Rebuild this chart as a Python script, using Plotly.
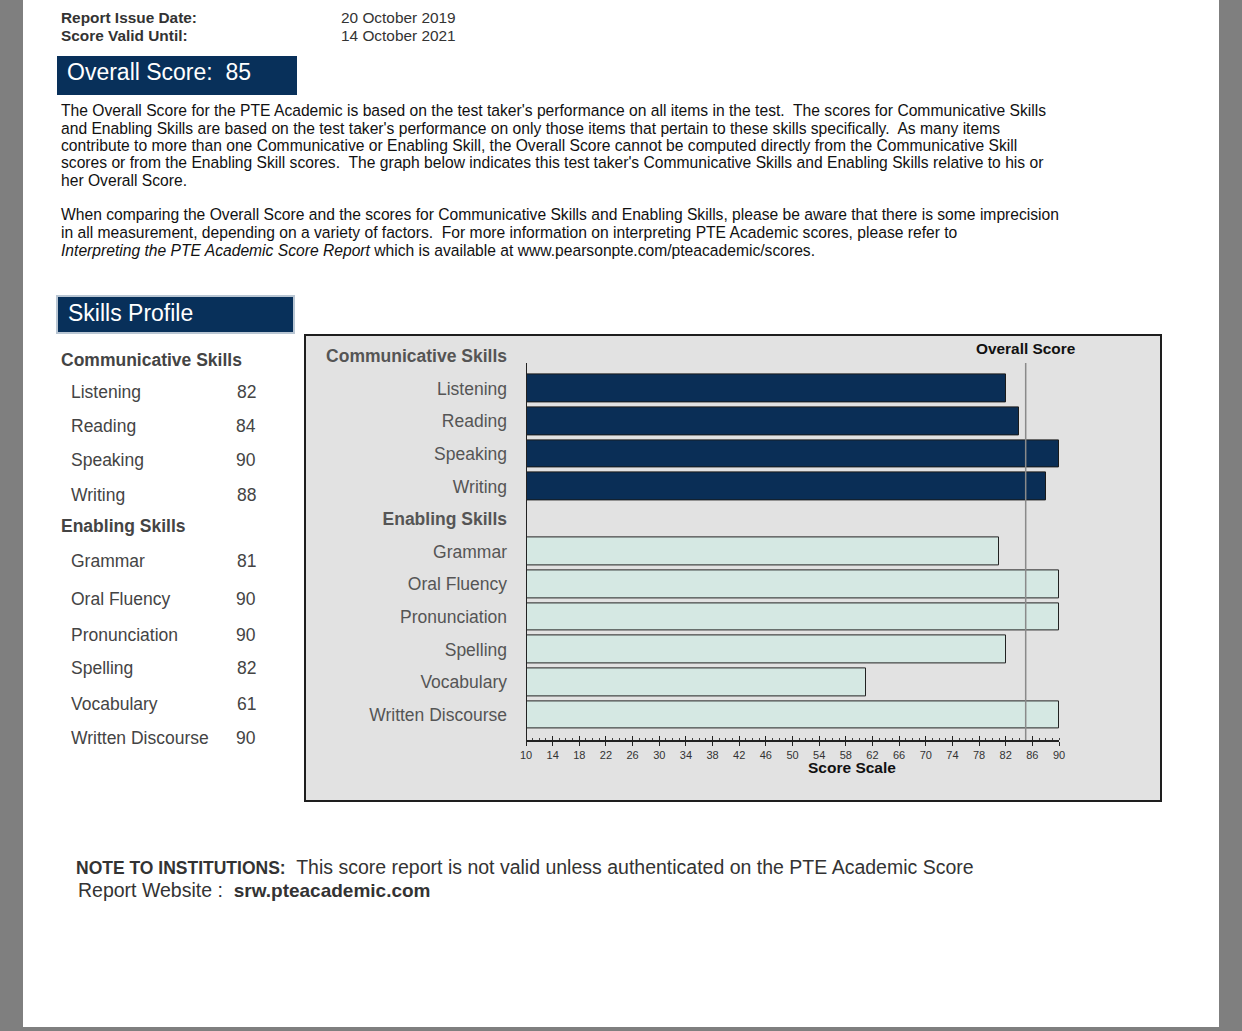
import plotly.graph_objects as go

W, H = 1242, 1031

# ---------------- data ----------------
report_labels = ["Report Issue Date:", "Score Valid Until:"]
report_dates = ["20 October 2019", "14 October 2021"]
overall_score = 85

comm_header = "Communicative Skills"
enab_header = "Enabling Skills"
comm_skills = ["Listening", "Reading", "Speaking", "Writing"]
comm_scores = [82, 84, 90, 88]
enab_skills = ["Grammar", "Oral Fluency", "Pronunciation", "Spelling", "Vocabulary", "Written Discourse"]
enab_scores = [81, 90, 90, 82, 61, 90]
categories = [comm_header] + comm_skills + [enab_header] + enab_skills
scale_min, scale_max, scale_step = 10, 90, 4

para1 = [
    "The Overall Score for the PTE Academic is based on the test taker's performance on all items in the test.\u00a0 The scores for Communicative Skills",
    "and Enabling Skills are based on the test taker's performance on only those items that pertain to these skills specifically.\u00a0 As many items",
    "contribute to more than one Communicative or Enabling Skill, the Overall Score cannot be computed directly from the Communicative Skill",
    "scores or from the Enabling Skill scores.\u00a0 The graph below indicates this test taker's Communicative Skills and Enabling Skills relative to his or",
    "her Overall Score.",
]
para2 = [
    "When comparing the Overall Score and the scores for Communicative Skills and Enabling Skills, please be aware that there is some imprecision",
    "in all measurement, depending on a variety of factors.\u00a0 For more information on interpreting PTE Academic scores, please refer to",
    "<i>Interpreting the PTE Academic Score Report</i> which is available at www.pearsonpte.com/pteacademic/scores.",
]

FONT = "Liberation Sans, Arial, sans-serif"
NAVY = "#0a2e56"
LIGHT = "#d5e8e3"


def px(x):
    return x / W


def py(y):
    return 1 - y / H


fig = go.Figure()
fig.add_trace(go.Bar(
    y=comm_skills, x=comm_scores, orientation="h", width=0.85,
    marker=dict(color=NAVY, line=dict(color="#1a1a1a", width=1)),
    showlegend=False, hoverinfo="x+y"))
fig.add_trace(go.Bar(
    y=enab_skills, x=enab_scores, orientation="h", width=0.85,
    marker=dict(color=LIGHT, line=dict(color="#222222", width=1)),
    showlegend=False, hoverinfo="x+y"))
# invisible trace on overlay axis for inside major ticks
fig.add_trace(go.Scatter(x=[scale_min, scale_max], y=[comm_header, comm_header], xaxis="x2",
                         mode="markers", marker=dict(opacity=0), showlegend=False, hoverinfo="skip"))

plot_x0, plot_x1 = 526, 1059
plot_y_bottom, plot_y_top = 740, 336.4

shapes = [
    # white page
    dict(type="rect", xref="paper", yref="paper", x0=px(23), x1=px(1219), y0=py(1027), y1=py(0),
         fillcolor="white", line=dict(width=0), layer="below"),
    # overall score header box
    dict(type="rect", xref="paper", yref="paper", x0=px(57), x1=px(297), y0=py(95), y1=py(56),
         fillcolor="#08305a", line=dict(width=0), layer="below"),
    # skills profile header box
    dict(type="rect", xref="paper", yref="paper", x0=px(57), x1=px(294), y0=py(333), y1=py(296),
         fillcolor="#08305a", line=dict(color="#b9c6d3", width=2), layer="below"),
    # chart box
    dict(type="rect", xref="paper", yref="paper", x0=px(305), x1=px(1161), y0=py(801), y1=py(335),
         fillcolor="#e2e2e2", line=dict(color="#1e1e1e", width=2), layer="below"),
    # y axis line
    dict(type="line", xref="x", yref="paper", x0=scale_min, x1=scale_min, y0=py(741), y1=py(363),
         line=dict(color="#222222", width=2), layer="above"),
    # overall score line
    dict(type="line", xref="x", yref="paper", x0=overall_score, x1=overall_score, y0=py(740), y1=py(363),
         line=dict(color="#8a8a8a", width=1.5), layer="above"),
]

annotations = []


def txt(x, y, text, size=14, color="#111111", anchor="left", bold=False):
    annotations.append(dict(
        x=px(x), y=py(y), xref="paper", yref="paper", text=f"<b>{text}</b>" if bold else text,
        showarrow=False, xanchor=anchor, yanchor="middle", borderpad=0,
        font=dict(family=FONT, size=size, color=color)))


for i, (lab, d) in enumerate(zip(report_labels, report_dates)):
    txt(60, 17 + 18 * i, lab, 15.4, "#333333", bold=True)
    txt(340, 17 + 18 * i, d, 15.4, "#333333")

txt(66, 72, f"Overall Score:\u00a0 {overall_score}", 23, "white")

for i, line in enumerate(para1):
    txt(60, 111 + 17.3 * i, line, 15.65, "#111111")
for i, line in enumerate(para2):
    txt(60, 215 + 17.5 * i, line, 15.65, "#111111")

txt(67, 313, "Skills Profile", 23, "white")

# left score table
table_y = [360, 392, 426, 460, 495, 526, 561, 599, 635, 668, 704, 738]
scores_all = [None] + comm_scores + [None] + enab_scores
for name, sc, yy in zip(categories, scores_all, table_y):
    if sc is None:
        txt(60, yy, name, 17.5, "#444444", bold=True)
    else:
        txt(70, yy, name, 17.5, "#444444")
        txt(257, yy, str(sc), 17.5, "#444444", anchor="right")

annotations.append(dict(x=overall_score, xref="x", y=py(348), yref="paper", text="<b>Overall Score</b>",
                        showarrow=False, xanchor="center", yanchor="middle",
                        font=dict(family=FONT, size=15.4, color="#111111")))

# axis title (offset to the right as in the report)
txt(852, 767, "Score Scale", 15.5, "#111111", anchor="center", bold=True)

annotations.append(dict(
    x=px(74), y=py(867), xref="paper", yref="paper", showarrow=False, xanchor="left", yanchor="middle",
    text=("<span style='font-size:17.5px'><b>NOTE TO INSTITUTIONS:</b></span>\u00a0 "
          "This score report is not valid unless authenticated on the PTE Academic Score"),
    font=dict(family=FONT, size=19.5, color="#333333")))
annotations.append(dict(
    x=px(76), y=py(890), xref="paper", yref="paper", showarrow=False, xanchor="left", yanchor="middle",
    text="Report Website :\u00a0 <span style='font-size:19px'><b>srw.pteacademic.com</b></span>",
    font=dict(family=FONT, size=19.5, color="#333333")))

ticktext = [f"<b>{c}</b>" if c in (comm_header, enab_header) else c for c in categories]

fig.update_layout(
    width=W, height=H,
    autosize=False,
    margin=dict(l=0, r=0, t=0, b=0, pad=0, autoexpand=False),
    paper_bgcolor="#7f7f7f",
    plot_bgcolor="rgba(0,0,0,0)",
    bargap=0,
    shapes=shapes,
    annotations=annotations,
    font=dict(family=FONT),
    xaxis=dict(
        domain=[px(plot_x0), px(plot_x1)], range=[scale_min, scale_max],
        automargin=False,
        tickmode="linear", tick0=scale_min, dtick=scale_step,
        showline=True, linecolor="#222222", linewidth=2,
        ticks="outside", ticklen=4, tickwidth=1, tickcolor="#222222",
        minor=dict(dtick=1, ticks="inside", ticklen=2, tickwidth=1, tickcolor="#444444"),
        showgrid=False, zeroline=False,
        tickfont=dict(family=FONT, size=11, color="#333333"),
        anchor="y",
    ),
    xaxis2=dict(
        overlaying="x", matches="x", anchor="y", side="bottom", automargin=False,
        range=[scale_min, scale_max], tickmode="linear", tick0=scale_min, dtick=scale_step,
        ticks="inside", ticklen=4, tickwidth=1, tickcolor="#222222",
        showticklabels=False, showgrid=False, zeroline=False, showline=False,
    ),
    yaxis=dict(
        domain=[py(plot_y_bottom), py(plot_y_top)],
        automargin=False,
        type="category", categoryorder="array", categoryarray=categories,
        range=[len(categories) - 0.23, -0.6],
        tickmode="array", tickvals=categories, ticktext=ticktext,
        showline=False, showgrid=False, zeroline=False, ticks="",
        ticklabelstandoff=18,
        tickfont=dict(family=FONT, size=17.5, color="#555555"),
    ),
)

fig.write_html(
    "out.html",
    config={"responsive": False, "displayModeBar": False},
    post_script="document.body.style.margin='0';document.body.style.overflow='hidden';",
)
